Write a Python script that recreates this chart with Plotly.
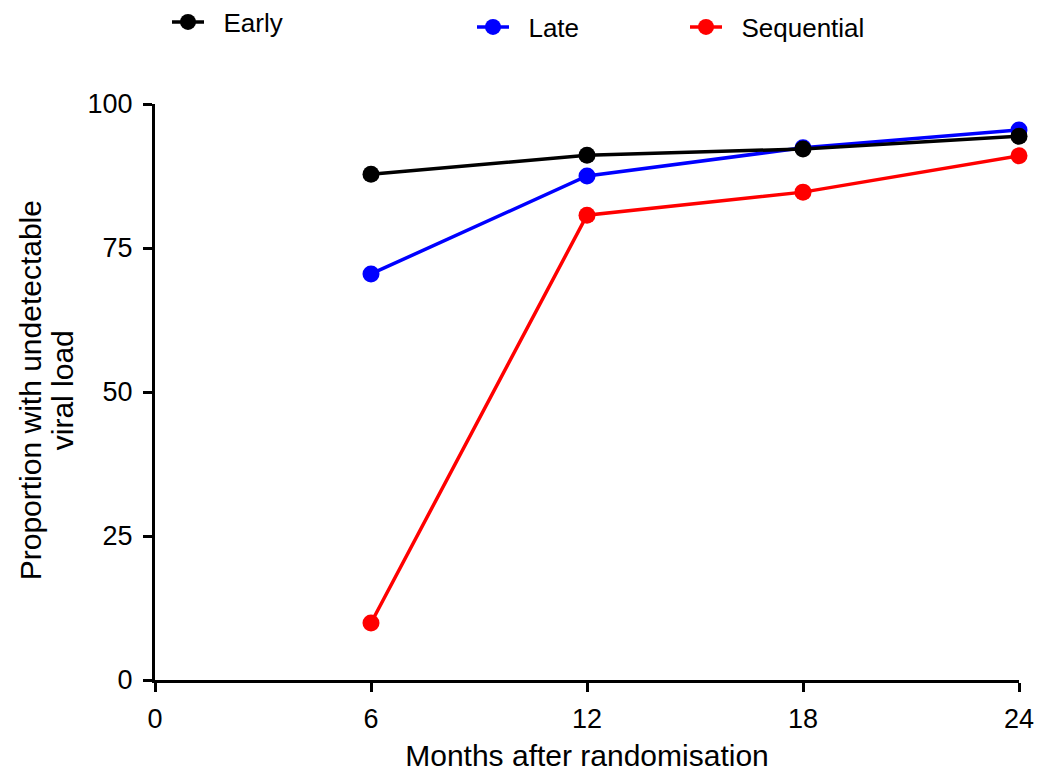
import plotly.graph_objects as go

months = [6, 12, 18, 24]
early = [87.8, 91.1, 92.2, 94.4]
late = [70.5, 87.5, 92.4, 95.5]
sequential = [9.9, 80.7, 84.7, 91.0]

x_ticks = [0, 6, 12, 18, 24]
y_ticks = [0, 25, 50, 75, 100]

FONT = "Arial, Liberation Sans, sans-serif"
PAD = "\u00a0\u00a0"  # gap between legend symbol and label

fig = go.Figure()

def add_series(name, values, color, legend):
    fig.add_trace(go.Scatter(
        x=months, y=values, name=PAD + name, mode="lines+markers",
        line=dict(color=color, width=3.5),
        marker=dict(color=color, size=17),
        legend=legend, cliponaxis=False,
    ))

# drawing order: sequential, late, then early on top
add_series("Sequential", sequential, "#ff0000", "legend3")
add_series("Late", late, "#0000ff", "legend2")
add_series("Early", early, "#000000", "legend")

legend_common = dict(
    font=dict(family=FONT, size=26, color="black"),
    bgcolor="rgba(0,0,0,0)", borderwidth=0,
    xref="container", yref="container",
    xanchor="left", yanchor="middle",
    itemwidth=32,
)

def y_title_line(text, px):
    return dict(
        text=text, xref="paper", yref="paper",
        x=(px - 155) / 864, y=0.503,
        xanchor="center", yanchor="middle", textangle=-90,
        showarrow=False,
        font=dict(family=FONT, size=30, color="black"),
    )

fig.update_layout(
    width=1043, height=772,
    margin=dict(l=155, r=24, t=104, b=92, autoexpand=False),
    plot_bgcolor="white", paper_bgcolor="white",
    font=dict(family=FONT, size=30, color="black"),
    showlegend=True,
    legend=dict(x=167 / 1043, y=1 - 22 / 772, **legend_common),
    legend2=dict(x=472 / 1043, y=1 - 27 / 772, **legend_common),
    legend3=dict(x=685 / 1043, y=1 - 27 / 772, **legend_common),
    xaxis=dict(
        range=[0, 24], tickvals=x_ticks, ticktext=[str(v) for v in x_ticks],
        showgrid=False, zeroline=False, showline=True,
        linecolor="black", linewidth=3,
        ticks="outside", ticklen=9, tickwidth=3, tickcolor="black",
        tickfont=dict(family=FONT, size=27, color="black"),
        tickangle=0, ticklabelstandoff=4,
        title=dict(text="Months after randomisation", standoff=14,
                   font=dict(family=FONT, size=30, color="black")),
        automargin=False,
    ),
    yaxis=dict(
        range=[0, 100], tickvals=y_ticks, ticktext=[str(v) for v in y_ticks],
        showgrid=False, zeroline=False, showline=True,
        linecolor="black", linewidth=3,
        ticks="outside", ticklen=9, tickwidth=3, tickcolor="black",
        tickfont=dict(family=FONT, size=27, color="black"),
        ticklabelstandoff=5,
        automargin=False,
    ),
    annotations=[
        y_title_line("Proportion with undetectable", 30),
        y_title_line("viral load", 62),
    ],
)

fig.write_html("out.html")
